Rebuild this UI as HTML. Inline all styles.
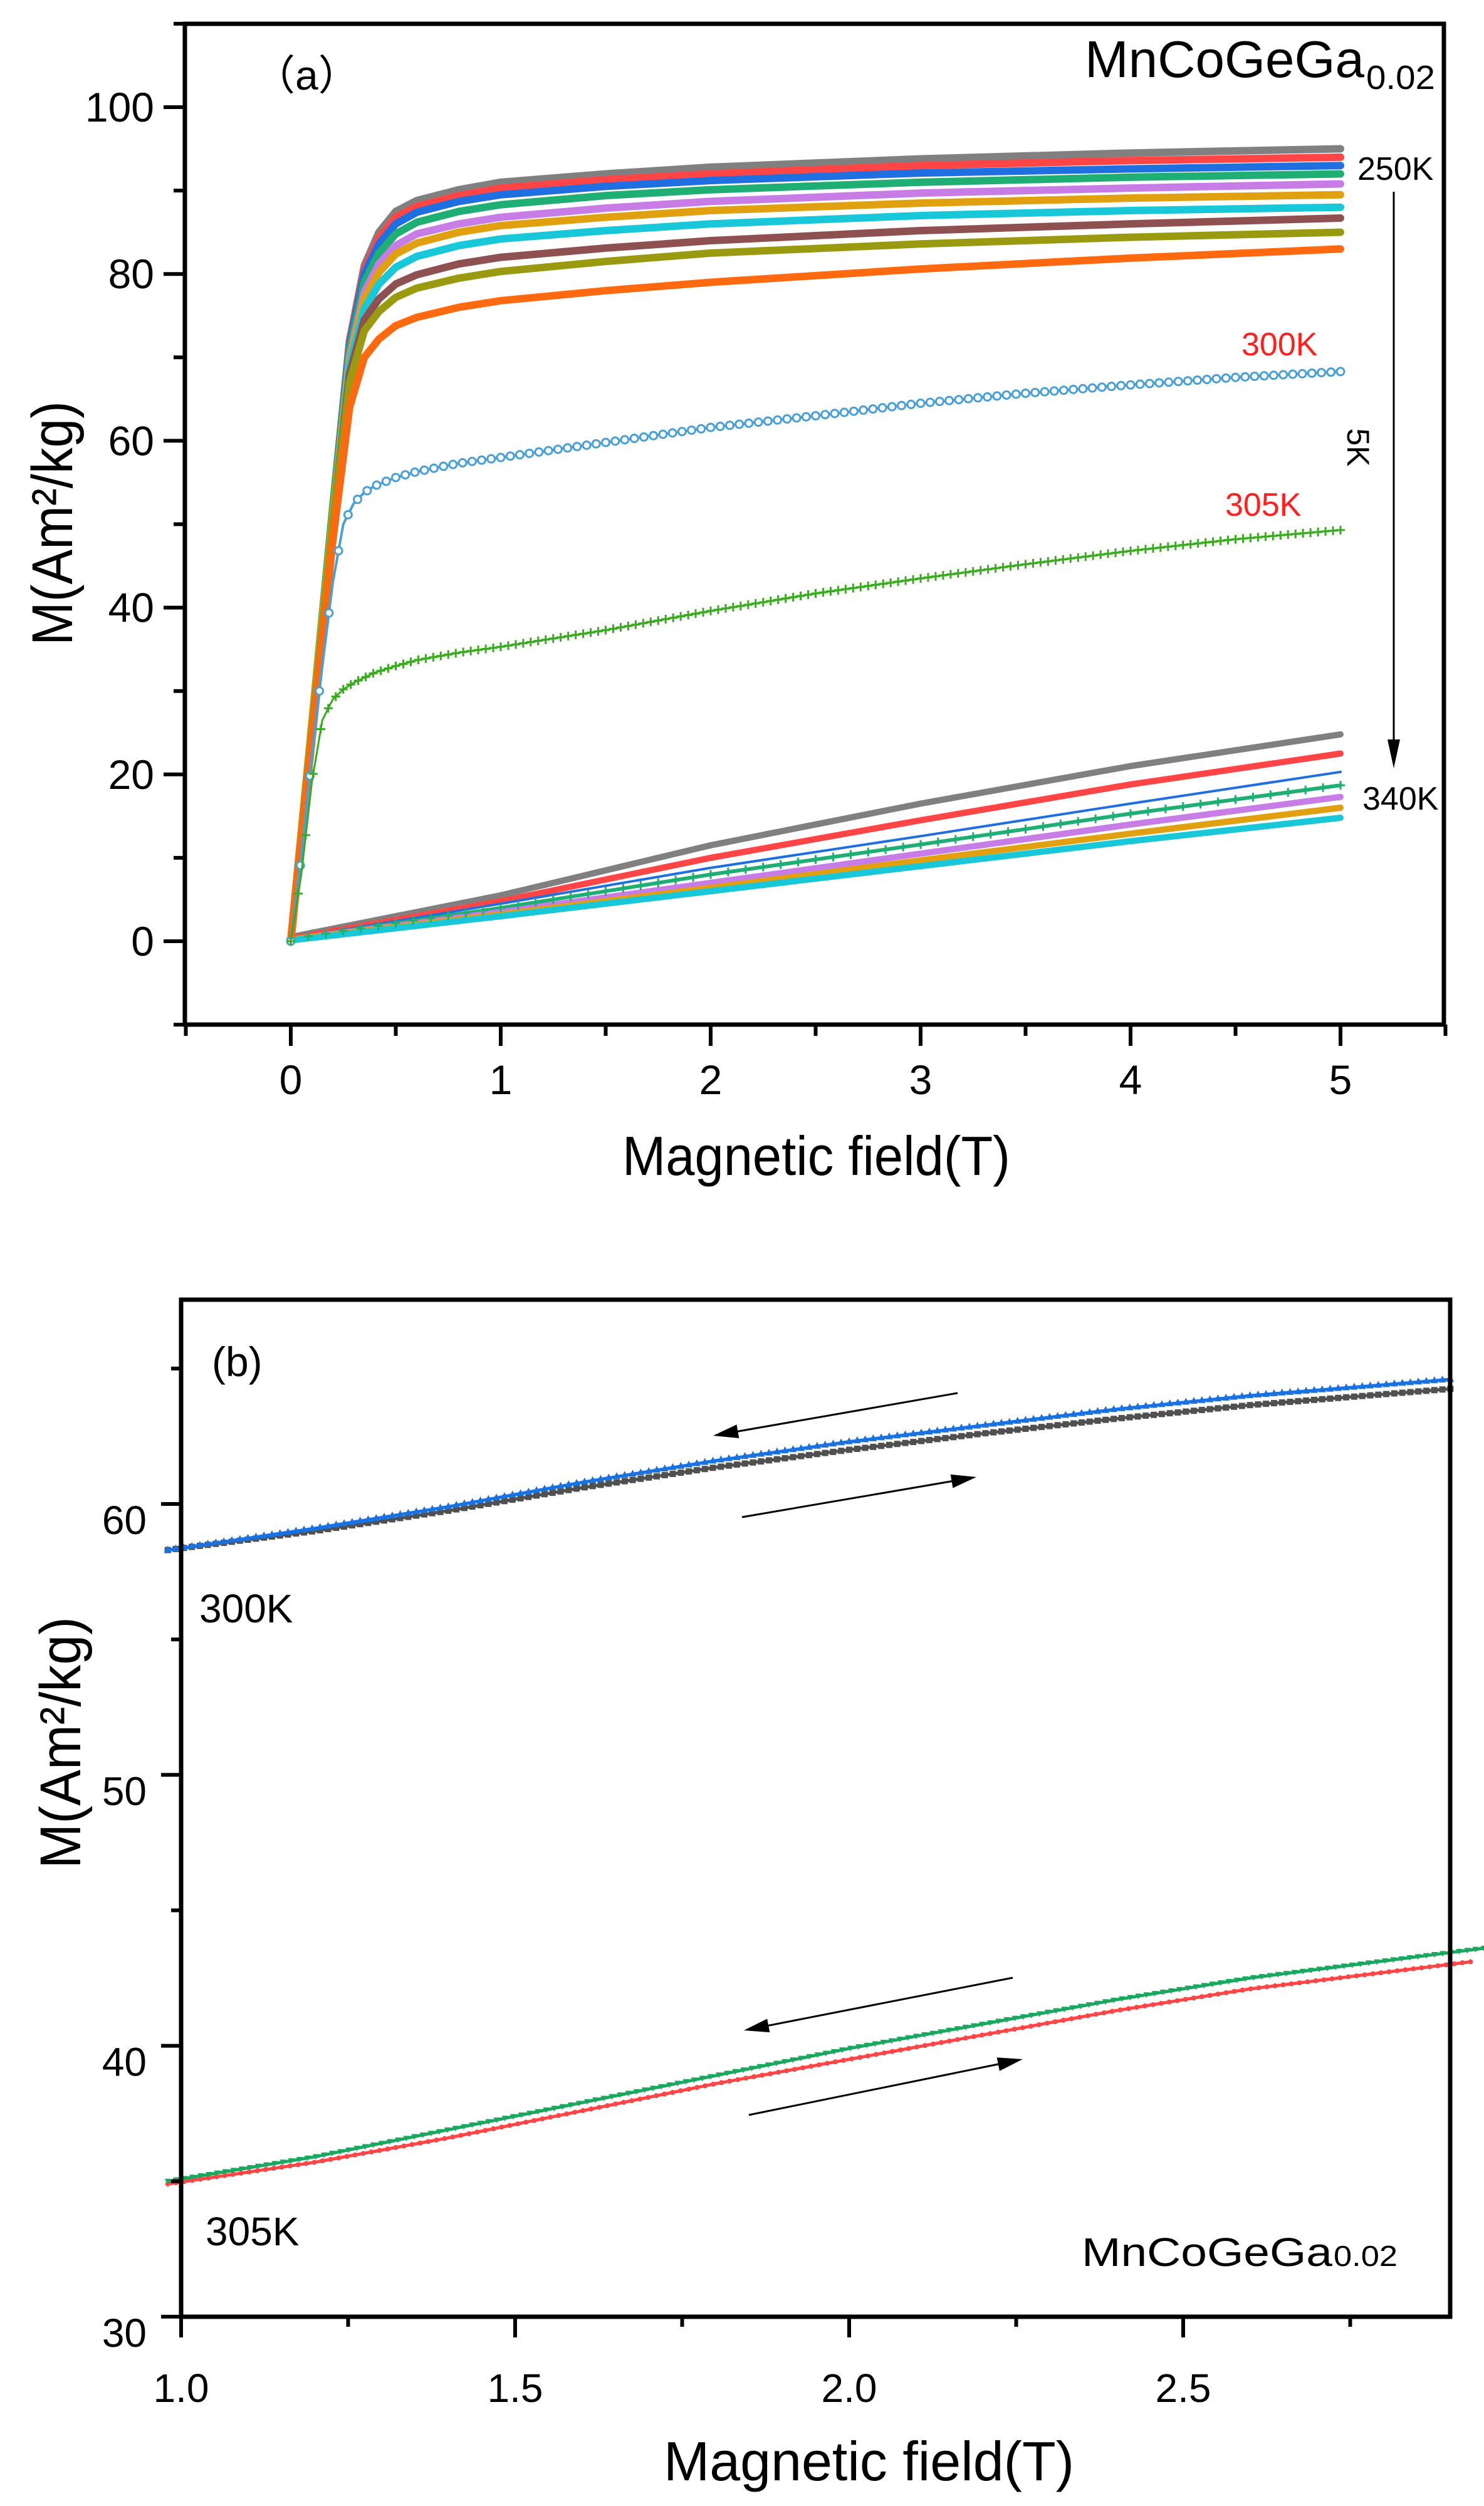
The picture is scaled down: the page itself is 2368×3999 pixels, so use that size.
<!DOCTYPE html>
<html><head><meta charset="utf-8"><style>
html,body{margin:0;padding:0;background:#fff}
svg{display:block}
text{font-family:"Liberation Sans",Arial,sans-serif;fill:#000}
</style></head><body>
<svg id="fig" width="2368" height="3999" viewBox="0 0 2368 3999" xmlns="http://www.w3.org/2000/svg">
<rect width="2368" height="3999" fill="#fff"/>
<g id="pa"></g>
<g id="pb"></g>
</svg>
<script>
// ---------- Panel (a) data ----------
const hFerro = [0,0.1,0.2,0.28,0.35,0.42,0.5,0.6,0.8,1,1.5,2,3,4,5];
const ferroNames = ['250K','255K','260K','265K','270K','275K','280K','285K','290K','295K'];
const ferroColors = ['#808080','#ff4545','#1f6fe0','#1fae73','#c77ce6','#e0a010','#19c8d8','#8e5050','#9a9a10','#ff6a10'];
const mGray   = [0,26,52,72,81,85,87.5,88.8,90.1,91,92,92.8,93.8,94.5,95];
const mRed    = [0,26,52,72,80.5,84.3,86.8,88.1,89.4,90.3,91.3,92,93,93.6,94];
const mBlue   = [0,26,52,71.5,80,83.6,86,87.4,88.7,89.5,90.5,91.2,92.1,92.6,93];
const mGreen  = [0,26,52,71,79,82.5,84.8,86.2,87.5,88.3,89.4,90.1,91,91.6,92];
const mViolet = [0,26,51,70,77.8,81.2,83.4,84.8,86,86.8,87.9,88.7,89.7,90.3,90.8];
const mGold   = [0,26,51,69.5,77,80.2,82.4,83.7,85,85.8,86.8,87.6,88.5,89.1,89.5];
const mCyan   = [0,25,50,69,75.8,78.8,80.8,82.1,83.4,84.2,85.2,86,87,87.6,88];
const mBrown  = [0,25,50,68,74.5,77,78.8,79.9,81.2,82,83.1,84,85.2,86,86.7];
const mOlive  = [0,25,50,67,73.2,75.5,77.2,78.3,79.5,80.3,81.5,82.5,83.6,84.4,85];
const mOrange = [0,24,48,64,70,72.2,73.8,74.8,76,76.8,78,79,80.6,81.9,83];
const ferroSeries = [mGray,mRed,mBlue,mGreen,mViolet,mGold,mCyan,mBrown,mOlive,mOrange];

const hMid = [0,0.05,0.1,0.15,0.2,0.25,0.3,0.35,0.4,0.5,0.6,0.8,1,1.5,2,2.5,3,3.5,4,4.5,5];
const m300 = [0,10,22,33,43,50,52.5,53.8,54.6,55.6,56.3,57.3,58,59.8,61.6,63,64.5,65.7,66.7,67.6,68.3];
const m305 = [0,8,19,26.5,29,30.2,31,31.6,32.2,33,33.7,34.6,35.3,37.3,39.6,41.7,43.5,45.2,46.8,48.2,49.3];

const hPara = [0,1,2,3,4,5];
const pGray   = [0.5,5.5,11.5,16.5,21,24.8];
const pRed    = [0.3,4.8,10,14.5,18.8,22.5];
const pBlue   = [0.3,4.5,8.8,12.6,16.5,20.3];
const pGreen  = [0.3,4,8,11.6,15.3,18.7];
const pViolet = [0.2,3.5,7,10.5,14,17.3];
const pOrange = [0.2,3.2,6.4,9.7,12.9,16];
const pCyan   = [0.1,3,6,9,12,14.8];
const paraSeries = [pGray,pRed,pBlue,pGreen,pViolet,pOrange,pCyan];
const paraColors = ['#808080','#ff4545','#1f6fe0','#1fae73','#c77ce6','#e0a010','#19c8d8'];
const paraWidths = [10,10,4,6,10,10,10];

const aXTicks = [0,1,2,3,4,5];
const aYTicks = [0,20,40,60,80,100];

// ---------- Panel (b) data ----------
const hB300 = [0.98,1.2,1.4,1.6,1.8,2.0,2.2,2.4,2.6,2.9];
const mB300up   = [58.3,59.1,59.9,60.8,61.6,62.3,62.9,63.5,64.0,64.6];
const mB300down = [58.3,59.0,59.75,60.6,61.35,62.0,62.6,63.15,63.65,64.25];
const hB305g = [0.98,1.2,1.4,1.6,1.8,2.0,2.2,2.4,2.6,2.95];
const mB305g = [35.0,35.9,36.9,37.9,38.9,39.9,40.8,41.7,42.5,43.6];
const hB305r = [0.98,1.2,1.4,1.6,1.8,2.0,2.2,2.4,2.6,2.93];
const mB305r = [34.9,35.7,36.6,37.6,38.6,39.5,40.4,41.3,42.1,43.1];
const bXTicks = [1.0,1.5,2.0,2.5];
const bXLabels = ['1.0','1.5','2.0','2.5'];
const bYTicks = [30,40,50,60];

const NS='http://www.w3.org/2000/svg';
function mk(parent, tag, attrs){const e=document.createElementNS(NS,tag);for(const k in attrs)e.setAttribute(k,attrs[k]);parent.appendChild(e);return e;}
function txt(parent,x,y,s,size,extra){const t=mk(parent,'text',Object.assign({x:x,y:y,'font-size':size},extra||{}));t.textContent=s;return t;}

// axis functions panel a
const ax = h => 464 + h*335;
const ay = m => 1502 - m*13.31;
// panel b
const bx = h => 289 + (h-1)*1066;
const by = m => 2400 - (m-60)*43.23;

function interp(hs, ms, n){
  const out=[];const h0=hs[0],h1=hs[hs.length-1];
  for(let i=0;i<=n;i++){const h=h0+(h1-h0)*i/n;let j=0;while(j<hs.length-2&&hs[j+1]<h)j++;
    const f=(h-hs[j])/(hs[j+1]-hs[j]);out.push([h,ms[j]+f*(ms[j+1]-ms[j])]);}
  return out;
}
function pts(hs,ms,fx,fy){return hs.map((h,i)=>fx(h).toFixed(1)+','+fy(ms[i]).toFixed(1)).join(' ');}

// ---------- Draw panel (a) ----------
const pa=document.getElementById('pa');
const paraG=mk(pa,'g',{});


paraSeries.forEach((s,i)=>{
  const l=mk(paraG,'polyline',{points:pts(hPara,s,ax,ay),fill:'none',stroke:paraColors[i],'stroke-width':paraWidths[i],'stroke-linejoin':'round','stroke-linecap':'round'});
  
  
});
// green + markers on one para curve
interp(hPara,pGreen,60).forEach(p=>{
  const x=ax(p[0]),y=ay(p[1]);
  mk(paraG,'path',{d:`M${x-7},${y}h14M${x},${y-7}v14`,stroke:'#1fae73','stroke-width':3});
});
const ferroG=mk(pa,'g',{});


ferroSeries.forEach((s,i)=>{
  const l=mk(ferroG,'polyline',{points:pts(hFerro,s,ax,ay),fill:'none',stroke:ferroColors[i],'stroke-width':12,'stroke-linejoin':'round','stroke-linecap':'round'});
  
  
});
// 300K
const c300=mk(pa,'g',{});


mk(c300,'polyline',{points:pts(hMid,m300,ax,ay),fill:'none',stroke:'#4a9fd5','stroke-width':4,'stroke-linejoin':'round'});
interp(hMid,m300,110).forEach(p=>mk(c300,'circle',{cx:ax(p[0]),cy:ay(p[1]),r:6,fill:'#fff',stroke:'#4a9fd5','stroke-width':3}));
// 305K
const c305=mk(pa,'g',{});


mk(c305,'polyline',{points:pts(hMid,m305,ax,ay),fill:'none',stroke:'#3aaa20','stroke-width':3,'stroke-linejoin':'round'});
interp(hMid,m305,140).forEach(p=>{const x=ax(p[0]),y=ay(p[1]);mk(c305,'path',{d:`M${x-7},${y}h14M${x},${y-7}v14`,stroke:'#3aaa20','stroke-width':3});});

// frame a
const fa=mk(pa,'rect',{x:295,y:38,width:2009,height:1597,fill:'none',stroke:'#000','stroke-width':7});


// ticks a
const tka=mk(pa,'g',{stroke:'#000','stroke-width':6});


for(let h=-0.5;h<=5.51;h+=0.5){const major=Math.abs(h-Math.round(h))<1e-6;mk(tka,'line',{x1:ax(h),x2:ax(h),y1:1635,y2:1635+(major?34:18)});}
for(let m=-10;m<=110.1;m+=10){const major=(Math.round(m)%20===0);mk(tka,'line',{x1:295,x2:295-(major?34:18),y1:ay(m),y2:ay(m)});}
aXTicks.forEach(v=>{const t=txt(pa,ax(v),1746,String(v),66,{'text-anchor':'middle'});});
aYTicks.forEach(v=>{const t=txt(pa,246,ay(v)+23,String(v),66,{'text-anchor':'end'});});
</script>
<script>
// static labels panel a
(function(){
const pa=document.getElementById('pa');
function T(x,y,s,size,name,extra){const t=document.createElementNS(NS,'text');t.setAttribute('x',x);t.setAttribute('y',y);t.setAttribute('font-size',size);for(const k in (extra||{}))t.setAttribute(k,extra[k]);t.textContent=s;


pa.appendChild(t);return t;}
T(993,1875,'Magnetic field(T)',88,'x-axis-title-a',{textLength:619,lengthAdjust:'spacingAndGlyphs'});
T(115,835,'M(Am²/kg)',92,'y-axis-title-a',{textLength:390,lengthAdjust:'spacingAndGlyphs','text-anchor':'middle',transform:'rotate(-90 115 835)'});
T(405,143,'（a）',66,'panel-label-a',{style:'font-family:"Liberation Sans","Noto Sans CJK SC",sans-serif'});
const c=T(1731,123,'MnCoGeGa',83,'compound-label-a',{textLength:446,lengthAdjust:'spacingAndGlyphs'});
T(2180,142,'0.02',54,'compound-subscript-a',{textLength:110,lengthAdjust:'spacingAndGlyphs'});
T(2166,287,'250K',52,'label-250K');
T(1981,567,'300K',52,'label-300K',{fill:'#ff2020',style:'fill:#ff2020'});
T(1955,823,'305K',52,'label-305K',{fill:'#ff2020',style:'fill:#ff2020'});
T(2174,1292,'340K',52,'label-340K');
T(2150,714,'5K',50,'label-5K-step',{'text-anchor':'middle',transform:'rotate(90 2150 714)'});
const ar=document.createElementNS(NS,'g');


pa.appendChild(ar);
const ln=document.createElementNS(NS,'line');ln.setAttribute('x1',2224);ln.setAttribute('x2',2224);ln.setAttribute('y1',306);ln.setAttribute('y2',1190);ln.setAttribute('stroke','#000');ln.setAttribute('stroke-width',3);ar.appendChild(ln);
const hd=document.createElementNS(NS,'polygon');hd.setAttribute('points','2214,1180 2234,1180 2224,1226');ar.appendChild(hd);
})();

// ---------- Draw panel (b) ----------
(function(){
const pb=document.getElementById('pb');
function series(hs,ms,color,name,marker){
  const g=mk(pb,'g',{});
  
  
  mk(g,'polyline',{points:pts(hs,ms,bx,by),fill:'none',stroke:color,'stroke-width':5,'stroke-linejoin':'round'});
  interp(hs,ms,160).forEach(p=>{const x=bx(p[0]),y=by(p[1]);
    if(marker==='tri')mk(g,'polygon',{points:`${x-6},${y+4} ${x+6},${y+4} ${x},${y-7}`,fill:color});
    else if(marker==='sq')mk(g,'rect',{x:x-5,y:y-5,width:10,height:10,fill:color});
    else if(marker==='dtri')mk(g,'polygon',{points:`${x-5},${y-4} ${x+5},${y-4} ${x},${y+5}`,fill:color});
    else mk(g,'circle',{cx:x,cy:y,r:4,fill:color});
  });
}
series(hB300,mB300down,'#505050','curve-300K-increasing','sq');
series(hB300,mB300up,'#1a72e0','curve-300K-decreasing','tri');
series(hB305r,mB305r,'#ff4545','curve-305K-increasing','dot');
series(hB305g,mB305g,'#1aa860','curve-305K-decreasing','dtri');

const fb=mk(pb,'path',{d:'M289,2074 H2314 V3697 H289 Z',fill:'none',stroke:'#000','stroke-width':7});


const tk=mk(pb,'g',{stroke:'#000','stroke-width':6});


for(let h=1.0;h<=2.91;h+=0.25){const major=Math.abs(h*2-Math.round(h*2))<1e-6;mk(tk,'line',{x1:bx(h),x2:bx(h),y1:3697,y2:3697+(major?33:16)});}
for(let m=30;m<=67.6;m+=5){const major=(Math.round(m)%10===0);mk(tk,'line',{x1:289,x2:289-(major?32:16),y1:by(m),y2:by(m)});}
bXTicks.forEach((v,i)=>{const t=txt(pb,bx(v),3833,bXLabels[i],64,{'text-anchor':'middle'});});
bYTicks.forEach(v=>{const t=txt(pb,234,by(v)+48,String(v),64,{'text-anchor':'end'});});

function L(x,y,s,size,name,extra){const t=txt(pb,x,y,s,size,extra);return t;}
L(1059,3958,'Magnetic field(T)',88,'x-axis-title-b',{textLength:655,lengthAdjust:'spacingAndGlyphs'});
L(128,2781,'M(Am²/kg)',92,'y-axis-title-b',{textLength:402,lengthAdjust:'spacingAndGlyphs','text-anchor':'middle',transform:'rotate(-90 128 2781)'});
L(338,2196,'(b)',66,'panel-label-b');
L(318,2589,'300K',64,'label-300K-b');
L(328,3583,'305K',64,'label-305K-b');
L(1726,3616,'MnCoGeGa',64,'compound-label-b',{textLength:400,lengthAdjust:'spacingAndGlyphs'});
L(2128,3616,'0.02',46,'compound-subscript-b',{textLength:102,lengthAdjust:'spacingAndGlyphs'});

function arrow(x1,y1,x2,y2,name){
  const g=mk(pb,'g',{});
  
  
  const dx=x2-x1,dy=y2-y1,len=Math.hypot(dx,dy),ux=dx/len,uy=dy/len;
  const bxp=x2-ux*40,byp=y2-uy*40;
  mk(g,'line',{x1:x1,y1:y1,x2:bxp,y2:byp,stroke:'#000','stroke-width':3});
  mk(g,'polygon',{points:`${x2},${y2} ${bxp-uy*11},${byp+ux*11} ${bxp+uy*11},${byp-ux*11}`,fill:'#000'});
}
arrow(1528,2223,1138,2291,'arrow-300K-decreasing');
arrow(1184,2421,1558,2357,'arrow-300K-increasing');
arrow(1616,3156,1187,3240,'arrow-305K-decreasing');
arrow(1195,3375,1632,3286,'arrow-305K-increasing');
})();
</script>
</body></html>
